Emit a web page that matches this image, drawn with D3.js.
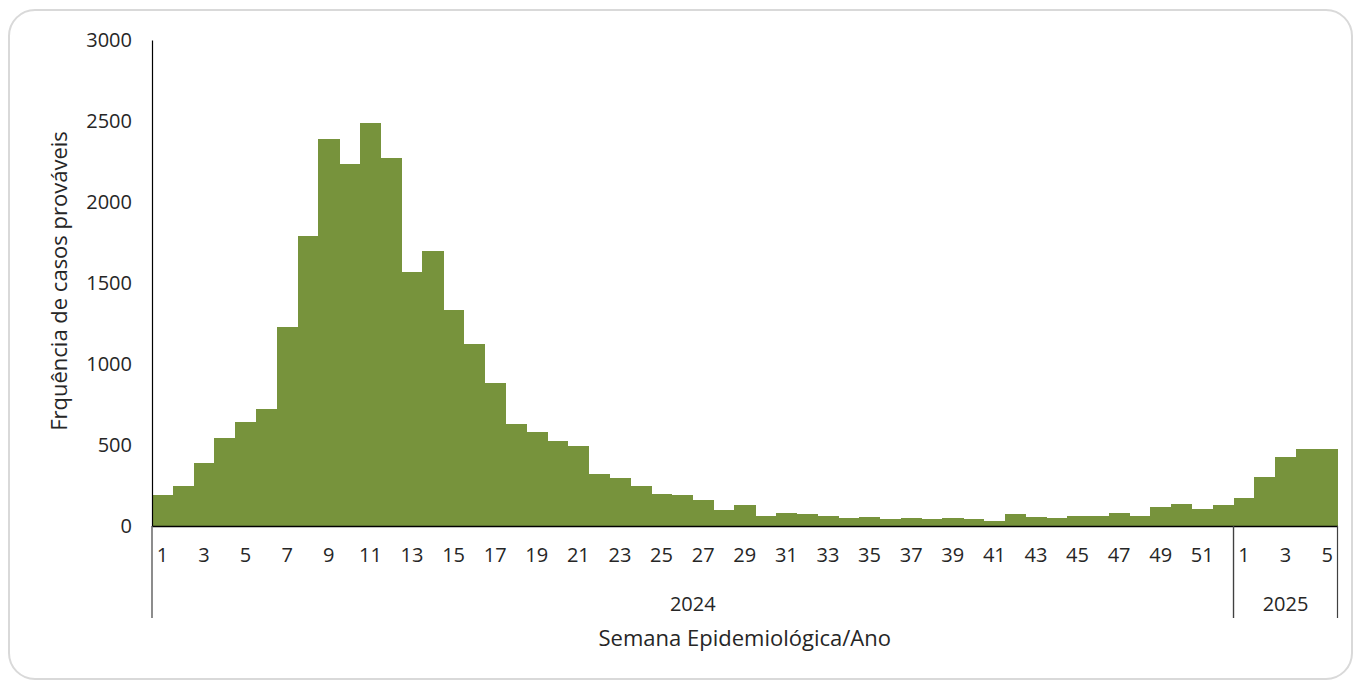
<!DOCTYPE html>
<html>
<head>
<meta charset="utf-8">
<script src="https://cdn.jsdelivr.net/npm/d3@7"></script>
<style>
  body { margin: 0; background: #fff; overflow: hidden; }
  svg { display: block; }
  text { font-family: "Open Sans", sans-serif; fill: #262626; }
</style>
</head>
<body>
<svg width="1358" height="681"></svg>
<script>
const svg = d3.select("svg");
const width = +svg.attr("width");
const height = +svg.attr("height");

// data
const years = ["2024", "2025"];
const weeks2024 = d3.range(1, 53);
const weeks2025 = [1, 2, 3, 4, 5];
const cases2024 = [190, 247, 389, 541, 642, 720, 1228, 1790, 2391, 2235,
  2486, 2274, 1570, 1695, 1331, 1125, 881, 630, 578, 523,
  492, 319, 294, 247, 200, 189, 160, 97, 128, 64,
  80, 72, 64, 49, 57, 41, 49, 41, 49, 41,
  33, 72, 56, 49, 64, 64, 80, 64, 119, 136,
  103, 128];
const cases2025 = [175, 302, 428, 475, 475];
const yTicks = [0, 500, 1000, 1500, 2000, 2500, 3000];

const data = [
  ...weeks2024.map((w, i) => ({ year: "2024", week: w, value: cases2024[i] })),
  ...weeks2025.map((w, i) => ({ year: "2025", week: w, value: cases2025[i] }))
];
data.forEach(d => d.key = d.year + "-" + d.week);

const margin = { top: 40, left: 152 };
const innerWidth = 1337.5 - margin.left;
const innerHeight = 526 - margin.top;

// card frame
svg.append("rect")
  .attr("x", 9).attr("y", 10)
  .attr("width", 1343).attr("height", 669)
  .attr("rx", 26)
  .attr("fill", "none")
  .attr("stroke", "#d9d9d9")
  .attr("stroke-width", 2);

const g = svg.append("g")
  .attr("transform", `translate(${margin.left}, ${margin.top})`);

const xScale = d3.scaleBand()
  .domain(data.map(d => d.key))
  .range([0, innerWidth])
  .padding(0);

const yScale = d3.scaleLinear()
  .domain([0, 3000])
  .range([innerHeight, 0]);

// bars
g.append("g")
  .attr("shape-rendering", "crispEdges")
  .selectAll("rect").data(data).enter().append("rect")
  .attr("x", d => xScale(d.key))
  .attr("y", d => yScale(d.value))
  .attr("width", xScale.bandwidth() + 0.5)
  .attr("height", d => innerHeight - yScale(d.value))
  .attr("fill", "#77933c");

// y-axis
const yAxis = d3.axisLeft(yScale)
  .tickValues(yTicks)
  .tickFormat(d3.format("d"))
  .tickSize(0)
  .tickPadding(20);
const yAxisG = g.append("g").call(yAxis);
yAxisG.attr("font-family", null).attr("font-size", null);
yAxisG.select(".domain").attr("stroke", "#000").attr("stroke-width", 1.2);
yAxisG.selectAll(".tick text")
  .style("font-size", "20px")
  .attr("fill", "#262626");

// x-axis: week labels (odd weeks)
const xAxis = d3.axisBottom(xScale)
  .tickValues(data.filter(d => d.week % 2 === 1).map(d => d.key))
  .tickFormat(k => k.split("-")[1])
  .tickSize(0)
  .tickPadding(22);
const xAxisG = g.append("g")
  .attr("transform", `translate(0, ${innerHeight})`)
  .call(xAxis);
xAxisG.attr("font-family", null).attr("font-size", null).attr("text-anchor", null);
xAxisG.select(".domain").attr("stroke", "#000").attr("stroke-width", 1.5);
xAxisG.selectAll(".tick text")
  .style("font-size", "20px")
  .style("text-anchor", "middle")
  .attr("fill", "#262626");

// year group separators and labels
const labels = svg.append("g");
const groupDepth = 92;
years.forEach(yr => {
  const keys = data.filter(d => d.year === yr).map(d => d.key);
  const x0 = margin.left + xScale(keys[0]);
  const x1 = margin.left + xScale(keys[keys.length - 1]) + xScale.bandwidth();
  labels.append("text")
    .attr("x", (x0 + x1) / 2)
    .attr("y", margin.top + innerHeight + 85)
    .style("text-anchor", "middle")
    .style("font-size", "20px")
    .text(yr);
  [x0, x1].forEach(x => {
    labels.append("line")
      .attr("x1", x).attr("x2", x)
      .attr("y1", margin.top + innerHeight)
      .attr("y2", margin.top + innerHeight + groupDepth)
      .attr("stroke", "#404040")
      .attr("stroke-width", 1.2);
  });
});

// axis titles
labels.append("text")
  .attr("x", margin.left + innerWidth / 2)
  .attr("y", margin.top + innerHeight + 120)
  .style("text-anchor", "middle")
  .style("font-size", "22px")
  .text("Semana Epidemiológica/Ano");

labels.append("text")
  .attr("transform", `translate(${margin.left - 85}, 281) rotate(-90)`)
  .style("text-anchor", "middle")
  .style("font-size", "22px")
  .text("Frquência de casos prováveis");
</script>
</body>
</html>
